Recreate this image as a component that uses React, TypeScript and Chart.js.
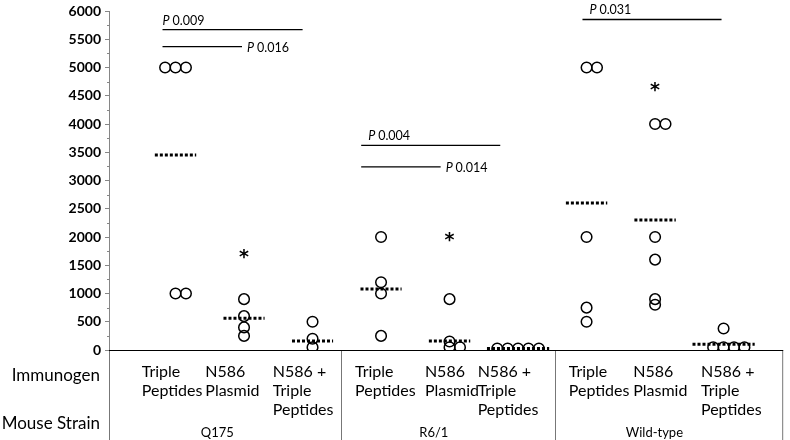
import React, { useEffect, useRef } from 'react';
import { Chart, registerables } from 'chart.js';

Chart.register(...registerables);

// ---------- data ----------
const strains = ['Q175', 'R6/1', 'Wild-type'];
const immunogens = [
  ['Triple', 'Peptides'],
  ['N586', 'Plasmid'],
  ['N586 +', 'Triple', 'Peptides'],
];
const yTickStep = 500;
const yMax = 6000;

const q175Triple = [5000, 5000, 5000, 1000, 1000];
const q175Plasmid = [900, 600, 400, 250];
const q175Combo = [500, 200, 50];
const r61Triple = [2000, 1200, 1000, 250];
const r61Plasmid = [900, 150, 50, 50];
const r61Combo = [25, 25, 25, 25, 25];
const wtTriple = [5000, 5000, 2000, 750, 500];
const wtPlasmid = [4000, 4000, 2000, 1600, 900, 800];
const wtCombo = [380, 50, 50, 50, 50];

const groupValues = [
  q175Triple, q175Plasmid, q175Combo,
  r61Triple, r61Plasmid, r61Combo,
  wtTriple, wtPlasmid, wtCombo,
];
const means = [3450, 560, 160, 1080, 160, 25, 2600, 2300, 100];

const asteriskCats = [2, 5, 8];
const asteriskValues = [1700, 2000, 4650];

const sigFrom = [0.81, 0.81, 3.71, 3.71, 6.94];
const sigTo = [2.855, 1.97, 5.74, 4.87, 8.97];
const sigValue = [5670, 5370, 3620, 3240, 5850];
const sigText = ['0.009', '0.016', '0.004', '0.014', '0.031'];
const sigPlace = ['above', 'right', 'above', 'right', 'above'];

// ---------- layout (category units) ----------
const X_MIN = 0.029;
const X_MAX = 9.87;
const JITTER = 0.152;
const labelLeft = [0.507, 1.435, 2.42, 3.62, 4.64, 5.41, 6.74, 7.68, 8.67];
const strainCenter = [1.61, 4.77, 7.99];
const separators = [3.41, 6.54];
const FONT = 'Lato, "Open Sans", sans-serif';

function offsets(values: number[]): number[] {
  const counts = new Map<number, number>();
  values.forEach((v) => counts.set(v, (counts.get(v) || 0) + 1));
  const seen = new Map<number, number>();
  return values.map((v) => {
    const n = counts.get(v) as number;
    const k = seen.get(v) || 0;
    seen.set(v, k + 1);
    return (k - Math.floor((n - 1) / 2)) * JITTER;
  });
}

export default function App() {
  const ref = useRef<HTMLCanvasElement | null>(null);

  useEffect(() => {
    if (!ref.current) return;

    const points: { x: number; y: number }[] = [];
    const meanLine: { x: number; y: number | null }[] = [];
    groupValues.forEach((vals, i) => {
      const cat = i + 1;
      const offs = offsets(vals);
      vals.forEach((v, j) => points.push({ x: cat + offs[j], y: v }));
      const maxOff = Math.max(...offs.map((o) => Math.abs(o)));
      const half = Math.max(0.3, maxOff + 0.15);
      meanLine.push({ x: cat - half, y: means[i] });
      meanLine.push({ x: cat + half, y: means[i] });
      meanLine.push({ x: cat + half, y: null });
    });

    const sigLines: { x: number; y: number | null }[] = [];
    sigFrom.forEach((f, i) => {
      sigLines.push({ x: f, y: sigValue[i] });
      sigLines.push({ x: sigTo[i], y: sigValue[i] });
      sigLines.push({ x: sigTo[i], y: null });
    });

    const overlay = {
      id: 'overlay',
      afterDraw(chart: any) {
        const { ctx, chartArea: a, scales } = chart;
        const x = scales.x;
        const y = scales.y;
        const H = chart.height;
        ctx.save();

        // minor ticks
        ctx.strokeStyle = '#868686';
        ctx.lineWidth = 1;
        for (let v = yTickStep / 2; v < yMax; v += yTickStep) {
          const py = Math.round(y.getPixelForValue(v)) + 0.5;
          ctx.beginPath();
          ctx.moveTo(a.left - 2, py);
          ctx.lineTo(a.left, py);
          ctx.stroke();
        }

        // table borders
        ctx.strokeStyle = '#777';
        const vlines = [a.left + 0.5, ...separators.map((s) => Math.round(x.getPixelForValue(s)) + 0.5), a.right - 0.5];
        vlines.forEach((px) => {
          ctx.beginPath();
          ctx.moveTo(px, a.bottom);
          ctx.lineTo(px, H);
          ctx.stroke();
        });

        // x axis line
        ctx.strokeStyle = '#000';
        ctx.lineWidth = 1.2;
        ctx.beginPath();
        ctx.moveTo(a.left, Math.round(a.bottom) + 0.5);
        ctx.lineTo(a.right, Math.round(a.bottom) + 0.5);
        ctx.stroke();

        // row headers
        ctx.fillStyle = '#000';
        ctx.textAlign = 'right';
        ctx.textBaseline = 'alphabetic';
        ctx.font = `17px ${FONT}`;
        ctx.fillText('Immunogen', a.left - 9, 381);
        ctx.fillText('Mouse Strain', a.left - 9, 429);

        // immunogen labels
        ctx.textAlign = 'left';
        ctx.font = `16px ${FONT}`;
        labelLeft.forEach((lx, i) => {
          const lines = immunogens[i % 3];
          const px = x.getPixelForValue(lx);
          lines.forEach((t, k) => ctx.fillText(t, px, 377 + k * 19));
        });

        // strain labels
        ctx.textAlign = 'center';
        ctx.font = `13px ${FONT}`;
        strains.forEach((s, i) => ctx.fillText(s, x.getPixelForValue(strainCenter[i]), 437));

        // asterisks
        ctx.font = `bold 19px "DejaVu Sans", sans-serif`;
        asteriskCats.forEach((c, i) => {
          const m = ctx.measureText('*');
          const cy = y.getPixelForValue(asteriskValues[i]);
          const base = cy + (m.actualBoundingBoxAscent - m.actualBoundingBoxDescent) / 2;
          ctx.fillText('*', x.getPixelForValue(c), base);
        });

        // p-values
        ctx.textAlign = 'left';
        sigText.forEach((t, i) => {
          const ly = y.getPixelForValue(sigValue[i]);
          let px: number;
          let py: number;
          if (sigPlace[i] === 'above') {
            px = x.getPixelForValue(sigFrom[i]) + (i === 0 ? 0 : 7);
            py = ly - 5;
          } else {
            px = x.getPixelForValue(sigTo[i]) + 5;
            py = ly + 5;
          }
          ctx.font = `italic 12.5px ${FONT}`;
          ctx.fillText('P', px, py);
          const w = ctx.measureText('P ').width;
          ctx.font = `12.5px ${FONT}`;
          ctx.fillText(t, px + w, py);
        });

        ctx.restore();
      },
    };

    const chart = new Chart(ref.current, {
      type: 'scatter',
      data: {
        datasets: [
          {
            type: 'line',
            data: meanLine as any,
            borderColor: '#000',
            borderWidth: 3,
            borderDash: [3, 2],
            pointRadius: 0,
            spanGaps: false,
            fill: false,
          },
          {
            type: 'line',
            data: sigLines as any,
            borderColor: '#000',
            borderWidth: 1.3,
            pointRadius: 0,
            spanGaps: false,
            fill: false,
          },
          {
            type: 'scatter',
            data: points,
            pointStyle: 'circle',
            pointRadius: 5.3,
            borderColor: '#000',
            borderWidth: 1.5,
            backgroundColor: 'rgba(0,0,0,0)',
          },
        ],
      },
      options: {
        animation: false,
        responsive: false,
        devicePixelRatio: 1,
        layout: { padding: { top: 7, right: 2, bottom: 90, left: 0 } },
        plugins: { legend: { display: false }, tooltip: { enabled: false } },
        scales: {
          x: { type: 'linear', min: X_MIN, max: X_MAX, display: false },
          y: {
            min: 0,
            max: yMax,
            afterFit: (s: any) => {
              s.width = 109;
            },
            ticks: {
              stepSize: yTickStep,
              color: '#000',
              padding: 4,
              callback: (v: any) => String(v),
              font: { family: FONT, size: 14, weight: 'bold', lineHeight: 1 },
            },
            grid: {
              drawOnChartArea: false,
              drawTicks: true,
              tickLength: 4,
              color: '#868686',
              tickColor: '#868686',
            },
            border: { color: '#868686', width: 1 },
          },
        },
      },
      plugins: [overlay],
    } as any);

    return () => chart.destroy();
  }, []);

  return (
    <div style={{ position: 'absolute', left: 0, top: 0, width: 790, height: 440, background: '#fff' }}>
      <canvas ref={ref} width={790} height={440} />
    </div>
  );
}
